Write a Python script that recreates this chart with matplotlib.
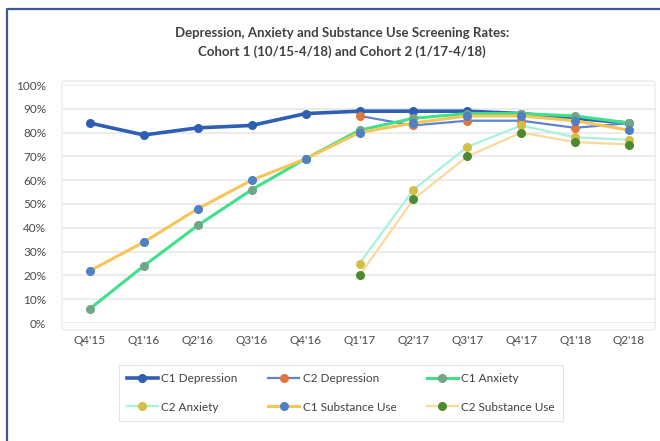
import matplotlib
matplotlib.use("Agg")
import matplotlib.pyplot as plt
from matplotlib.lines import Line2D
from matplotlib.patches import FancyBboxPatch
from matplotlib.ticker import PercentFormatter

plt.rcParams['font.family'] = ['Lato', 'DejaVu Sans']

quarters = ["Q4'15", "Q1'16", "Q2'16", "Q3'16", "Q4'16", "Q1'17",
            "Q2'17", "Q3'17", "Q4'17", "Q1'18", "Q2'18"]

# Cohort 1 runs the whole period, cohort 2 starts in Q1'17
c1_depression = [84, 79, 82, 83, 88, 89, 89, 89, 88, 86, 84]
c1_anxiety = [6, 24, 41, 56, 69, 81, 86, 88, 88, 87, 84]
c1_substance = [22, 34, 48, 60, 69, 80, 84, 87, 87, 85, 81]

c2_quarters = quarters[5:]
c2_depression = [87, 83, 85, 85, 82, 84]
c2_anxiety = [25, 56, 74, 83, 78, 77]
c2_substance = [20, 52, 70, 80, 76, 75]

series = [
    ("C1 Depression", quarters, c1_depression, "#2e5fb3", "#2e5fb3", 2.6),
    ("C2 Depression", c2_quarters, c2_depression, "#5b84d6", "#e2763f", 1.6),
    ("C1 Anxiety", quarters, c1_anxiety, "#3fe08a", "#70a585", 2.2),
    ("C2 Anxiety", c2_quarters, c2_anxiety, "#a8f2dc", "#d2bf45", 1.6),
    ("C1 Substance Use", quarters, c1_substance, "#f7c556", "#4f7fc4", 2.2),
    ("C2 Substance Use", c2_quarters, c2_substance, "#fad99a", "#4c8a32", 1.6),
]

fig = plt.figure(figsize=(6.6, 4.41), dpi=100)
fig.patch.set_facecolor("white")

# plot area frame
frame = FancyBboxPatch((62 / 660, 1 - 330 / 441), 593 / 660, 249 / 441,
                       boxstyle="round,pad=0,rounding_size=0.004",
                       transform=fig.transFigure, facecolor="none",
                       edgecolor="#e6e6e6", lw=0.8)
fig.add_artist(frame)

ax = fig.add_axes([63 / 660, 1 - 323 / 441, 593 / 660, 238 / 441])
ax.set_facecolor("none")

x_pos = {q: i for i, q in enumerate(quarters)}
for name, qs, vals, line_c, mark_c, lw in series:
    ax.plot([x_pos[q] for q in qs], vals, color=line_c, lw=lw,
            marker="o", ms=5.5, mfc=mark_c, mec=mark_c, label=name)

ax.set_xlim(-0.5, len(quarters) - 0.5)
ax.set_ylim(0, 100)
ax.set_yticks(range(0, 101, 10))
ax.yaxis.set_major_formatter(PercentFormatter(decimals=0))
ax.set_xticks(range(len(quarters)))
ax.set_xticklabels(quarters)
ax.grid(axis="y", color="#e8e8e8", lw=1.2)
ax.set_axisbelow(True)
for s in ax.spines.values():
    s.set_visible(False)
ax.tick_params(length=0, labelsize=8.5, labelcolor="#4a4a4a")
ax.tick_params(axis="y", pad=12)
ax.tick_params(axis="x", pad=9)

fig.text(0.518, 1 - 33 / 441,
         "Depression, Anxiety and Substance Use Screening Rates:",
         ha="center", va="center", fontsize=9.5, fontweight="bold",
         color="#404040")
fig.text(0.518, 1 - 52 / 441,
         "Cohort 1 (10/15-4/18) and Cohort 2 (1/17-4/18)",
         ha="center", va="center", fontsize=9.5, fontweight="bold",
         color="#404040")

# legend fills column by column, so reorder to read across rows
handles, labels = ax.get_legend_handles_labels()
order = [0, 3, 1, 4, 2, 5]
leg = fig.legend([handles[i] for i in order], [labels[i] for i in order],
                 loc="center", bbox_to_anchor=(341 / 660, 1 - 393 / 441),
                 ncol=3, fontsize=8.5, frameon=True, fancybox=False,
                 handlelength=2.6, handletextpad=0.3, columnspacing=2.6,
                 labelspacing=1.45, borderpad=0.7)
leg.get_frame().set_edgecolor("#dcdcdc")
leg.get_frame().set_linewidth(0.8)
for t in leg.get_texts():
    t.set_color("#404040")

# document border along the top and left
fig.add_artist(Line2D([7 / 660, 7 / 660, 1], [0, 1 - 8.5 / 441, 1 - 8.5 / 441],
                      transform=fig.transFigure, color="#3b5998", lw=1.6))

fig.savefig("out.png", dpi=100)
